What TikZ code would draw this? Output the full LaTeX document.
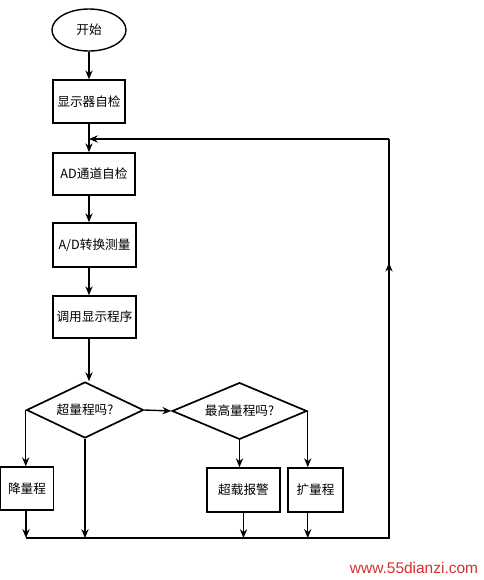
\documentclass[tikz,border=0pt]{standalone}
\usepackage{fontspec}
\newfontfamily\cjk{Noto Sans CJK SC}
\newfontfamily\webfont{Liberation Sans}
\usepackage{tikz}
\usetikzlibrary{arrows.meta,calc,shapes.geometric}
\definecolor{mark}{RGB}{214,48,48}

\begin{document}
\begin{tikzpicture}[x=0.025cm,y=-0.025cm,
  box/.style={draw,line width=1.2pt,inner sep=0pt,font=\cjk\fontsize{9}{10}\selectfont},
  test/.style={draw,diamond,aspect=2.1,line width=1.2pt,inner sep=0pt,font=\cjk\fontsize{9}{10}\selectfont},
  arr/.style={-{Stealth[length=2.2mm,width=1.8mm]},line width=1pt},
  line/.style={line width=1.2pt}]
\useasboundingbox (0,0) rectangle (483,580);
\node[draw,ellipse,line width=1pt,minimum width=1.85cm,minimum height=1.05cm,font=\cjk\fontsize{9}{10}\selectfont] (start) at (89,30) {开始};
\node[box,minimum width=1.8cm,minimum height=1.07cm] (b1) at (89,101.5) {显示器自检};
\node[box,minimum width=2.05cm,minimum height=1.05cm] (b2) at (94,174) {AD通道自检};
\node[box,minimum width=2.07cm,minimum height=1.1cm] (b3) at (94.5,245) {A/D转换测量};
\node[box,minimum width=2.07cm,minimum height=1.05cm] (b4) at (94.5,317) {调用显示程序};
\node[test,minimum width=2.92cm,minimum height=1.4cm] (d1) at (85,410) {超量程吗?};
\node[test,minimum width=3.37cm,minimum height=1.42cm] (d2) at (239.5,411) {最高量程吗?};
\node[box,minimum width=1.32cm,minimum height=1.07cm] (b5) at (27,488.5) {降量程};
\node[box,minimum width=1.82cm,minimum height=1.1cm] (b6) at (243.5,490) {超载报警};
\node[box,minimum width=1.37cm,minimum height=1.1cm] (b7) at (315.5,490) {扩量程};
\coordinate (bl) at (26,538);
\coordinate (br) at (389,538);
\coordinate (tr) at (389,139);
\coordinate (join) at (89,139);
% main chain
\draw[arr] (start) -- (b1);
\draw[arr] (b1.south) -- (b1.south |- b2.north);
\draw[arr] (b2.south -| b1.south) -- (b1.south |- b3.north);
\draw[arr] (b3.south -| b1.south) -- (b1.south |- b4.north);
\draw[arr] (b4.south -| b1.south) -- (b1.south |- d1.north);
% branches
\draw[arr] (d1.west) -- (d1.west |- b5.north);
\draw[arr] (d1.east) -- (d2.west);
\draw[arr] (d2.south) -- (d2.south |- b6.north);
\draw[arr] (d2.east) -- (d2.east |- b7.north);
\draw[arr] (d1.south) -- (d1.south |- bl);
\draw[arr] (b5.south -| bl) -- (bl);
\draw[arr] (b6.south) -- (b6.south |- bl);
\draw[arr] (b7.south -| d2.east) -- (d2.east |- bl);
% back to the AD check
\draw[line] (bl) -- (br) -- (tr);
\draw[arr,line width=1.2pt] (br) -- ($(br)!0.69!(tr)$);
\draw[arr,line width=1.2pt] (tr) -- (join);
\node[font=\webfont\fontsize{11}{13}\selectfont,text=mark] (web) at (414,568) {www.55dianzi.com};
\end{tikzpicture}
\end{document}
